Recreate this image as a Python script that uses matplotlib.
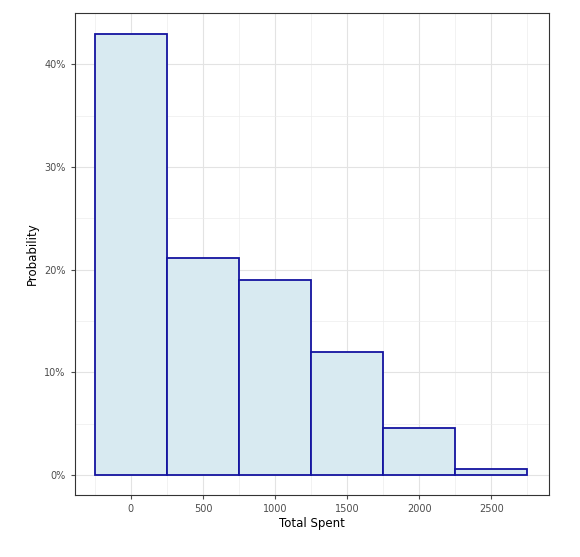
import matplotlib
matplotlib.use("Agg")
import matplotlib.pyplot as plt
from matplotlib.ticker import FuncFormatter, MultipleLocator

bin_centers = [0, 500, 1000, 1500, 2000, 2500]
probabilities = [42.9, 21.1, 19.0, 12.0, 4.6, 0.6]
bin_width = 500

fig = plt.figure(figsize=(5.8, 5.57), dpi=100)
ax = fig.add_axes([0.129, 0.111, 0.818, 0.866])
ax.bar(bin_centers, probabilities, width=bin_width, color="#d8eaf1",
       edgecolor="#1414a0", linewidth=1.3, zorder=3)
ax.set_xlim(-389, 2903)
ax.set_ylim(-1.95, 45.0)
ax.xaxis.set_major_locator(MultipleLocator(500))
ax.xaxis.set_minor_locator(MultipleLocator(250))
ax.yaxis.set_major_locator(MultipleLocator(10))
ax.yaxis.set_minor_locator(MultipleLocator(5))
ax.yaxis.set_major_formatter(FuncFormatter(lambda v, p: f"{int(v)}%"))
ax.grid(True, which="major", color="#e3e3e3", linewidth=0.8, zorder=0)
ax.grid(True, which="minor", color="#ededed", linewidth=0.5, zorder=0)
ax.tick_params(which="minor", length=0)
ax.tick_params(which="major", labelsize=7, colors="#4d4d4d", length=3)
for s in ax.spines.values():
    s.set_color("#333333"); s.set_linewidth(0.8)
ax.set_xlabel("Total Spent", fontsize=8.5, labelpad=2)
ax.set_ylabel("Probability", fontsize=8.5)
fig.savefig("out.png", dpi=100)
